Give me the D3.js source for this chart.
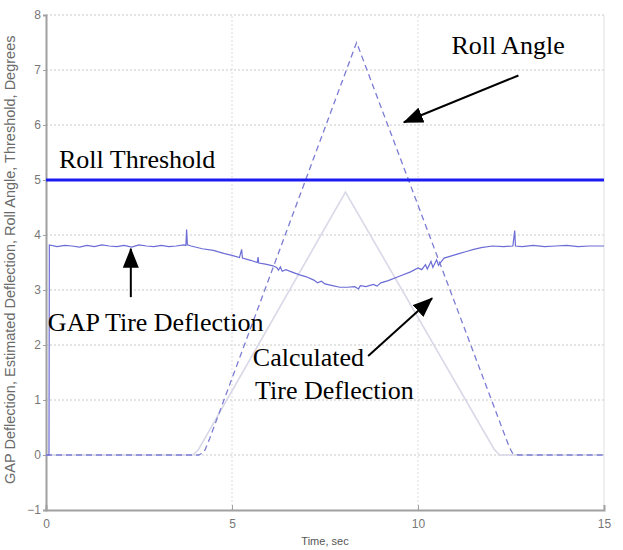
<!DOCTYPE html>
<html>
<head>
<meta charset="utf-8">
<script src="https://cdn.jsdelivr.net/npm/d3@7"></script>
<style>
  body { margin: 0; background: #fff; }
  svg { display: block; }
</style>
</head>
<body>
<svg id="chart"></svg>
<script>
// time (sec) / value (degrees) pairs
const thresholdTime = [0, 15];
const thresholdValue = [5, 5];

const rollTime = [0, 4.1, 4.25, 4.4, 8.35, 12.45, 12.55, 12.7, 15];
const rollValue = [0, 0, 0.05, 0.3, 7.5, 0.15, 0.02, 0, 0];

const calcTime = [0, 3.95, 4.1, 8.05, 12.05, 12.2, 15];
const calcValue = [0, 0, 0.1, 4.78, 0.1, 0, 0];

const gapTime = [
  0, 0.08, 0.09, 0.3, 0.5, 0.7, 0.9, 1.1, 1.3, 1.5, 1.7, 1.9, 2.1, 2.3, 2.5,
  2.7, 2.9, 3.1, 3.3, 3.5, 3.7, 3.76, 3.78, 3.8, 3.9, 4.2, 4.5, 4.8, 5.0,
  5.2, 5.26, 5.28, 5.5, 5.68, 5.7, 5.72, 5.9, 6.1, 6.2, 6.25, 6.3, 6.35,
  6.45, 6.6, 6.8, 7.0, 7.2, 7.3, 7.4, 7.5, 7.7, 7.9, 8.1, 8.3, 8.4, 8.45,
  8.6, 8.8, 8.9, 9.0, 9.2, 9.5, 9.8, 10.0, 10.1, 10.2, 10.25, 10.35, 10.4,
  10.5, 10.55, 10.7, 10.9, 11.1, 11.3, 11.5, 11.7, 12.0, 12.3, 12.55, 12.6,
  12.62, 12.8, 13.1, 13.4, 13.7, 14.0, 14.3, 14.6, 15
];
const gapValue = [
  0, 0, 3.82, 3.79, 3.81, 3.8, 3.78, 3.81, 3.79, 3.82, 3.8, 3.79, 3.81, 3.78,
  3.82, 3.8, 3.79, 3.81, 3.79, 3.8, 3.82, 3.81, 4.1, 3.82, 3.8, 3.75, 3.72,
  3.66, 3.63, 3.59, 3.74, 3.58, 3.54, 3.5, 3.6, 3.49, 3.47, 3.44, 3.41, 3.36,
  3.42, 3.34, 3.37, 3.33, 3.28, 3.24, 3.18, 3.13, 3.16, 3.11, 3.08, 3.05,
  3.05, 3.06, 3.02, 3.08, 3.06, 3.1, 3.07, 3.13, 3.17, 3.25, 3.33, 3.4, 3.37,
  3.46, 3.38, 3.52, 3.41, 3.55, 3.45, 3.58, 3.62, 3.66, 3.7, 3.74, 3.77, 3.8,
  3.79, 3.8, 4.08, 3.8, 3.79, 3.81, 3.79, 3.8, 3.81, 3.79, 3.8, 3.8
];

const xTicks = [0, 5, 10, 15];
const yTicks = [-1, 0, 1, 2, 3, 4, 5, 6, 7, 8];

const width = 623;
const height = 550;

const svg = d3.select("#chart").attr("width", width).attr("height", height);

const x = d3.scaleLinear().domain([0, 15]).range([46, 604]);
const y = d3.scaleLinear().domain([-1, 8]).range([510, 15]);

// grid
svg.append("g")
  .selectAll("line")
  .data(yTicks.slice(1))
  .enter()
  .append("line")
  .attr("x1", x(0)).attr("x2", x(15))
  .attr("y1", (d) => y(d)).attr("y2", (d) => y(d))
  .style("stroke", "#c8c8c8")
  .style("stroke-dasharray", "2,2");

svg.append("g")
  .selectAll("line")
  .data(xTicks.slice(1, 3))
  .enter()
  .append("line")
  .attr("y1", y(-1)).attr("y2", y(8))
  .attr("x1", (d) => x(d)).attr("x2", (d) => x(d))
  .style("stroke", "#dcdcdc")
  .style("stroke-dasharray", "2,2");

// right border
svg.append("line")
  .attr("x1", x(15)).attr("x2", x(15))
  .attr("y1", y(-1)).attr("y2", y(8))
  .style("stroke", "#e0e0e0");

// axes
const xAxis = svg.append("g")
  .attr("transform", `translate(0,${y(-1)})`)
  .call(d3.axisBottom(x).tickValues(xTicks).tickSize(-5).tickPadding(9));
const yAxis = svg.append("g")
  .attr("transform", `translate(${x(0)},0)`)
  .call(d3.axisLeft(y).tickValues(yTicks).tickSize(3).tickPadding(2));

[xAxis, yAxis].forEach((a) => {
  a.select(".domain").style("stroke", "#a0a0a0").style("stroke-width", 2);
  a.selectAll(".tick line").style("stroke", "#a0a0a0");
  a.selectAll("text")
    .style("font-family", "Liberation Sans, Arial, sans-serif")
    .style("font-size", "12px")
    .style("fill", "#777");
});

svg.append("text")
  .attr("x", x(7.5))
  .attr("y", 545)
  .attr("text-anchor", "middle")
  .style("font-family", "Liberation Sans, Arial, sans-serif")
  .style("font-size", "11px")
  .style("fill", "#555")
  .text("Time, sec");

svg.append("text")
  .attr("transform", `translate(15,${y(3.55)}) rotate(-90)`)
  .attr("text-anchor", "middle")
  .style("font-family", "Liberation Sans, Arial, sans-serif")
  .style("font-size", "14.5px")
  .style("fill", "#6a6a6a")
  .text("GAP Deflection, Estimated Deflection, Roll Angle, Threshold, Degrees");

// series
const line = d3.line().x((d) => x(d[0])).y((d) => y(d[1]));
const pairs = (t, v) => t.map((d, i) => [d, v[i]]);

svg.append("path")
  .datum(pairs(calcTime, calcValue))
  .attr("d", line)
  .style("fill", "none")
  .style("stroke", "#d8d8e8")
  .style("stroke-width", 1.6);

svg.append("path")
  .datum(pairs(rollTime, rollValue))
  .attr("d", line)
  .style("fill", "none")
  .style("stroke", "#7c7cd4")
  .style("stroke-width", 1.3)
  .style("stroke-dasharray", "6,4");

svg.append("path")
  .datum(pairs(gapTime, gapValue))
  .attr("d", line)
  .style("fill", "none")
  .style("stroke", "#6c6cd6")
  .style("stroke-width", 1.2);

svg.append("path")
  .datum(pairs(thresholdTime, thresholdValue))
  .attr("d", line)
  .style("fill", "none")
  .style("stroke", "#1c1cf0")
  .style("stroke-width", 3);

// annotations (data coordinates)
const labels = [
  { text: "Roll Angle", t: 10.9, v: 7.3 },
  { text: "Roll Threshold", t: 0.35, v: 5.22 },
  { text: "GAP Tire Deflection", t: 0.05, v: 2.25 },
  { text: "Calculated", t: 5.56, v: 1.62 },
  { text: "Tire Deflection", t: 5.62, v: 1.02 },
];
const arrows = [
  { t1: 12.7, v1: 6.9, t2: 9.62, v2: 6.05 },
  { t1: 2.28, v1: 2.87, t2: 2.28, v2: 3.75 },
  { t1: 8.66, v1: 1.8, t2: 10.38, v2: 2.85 },
];

svg.selectAll(".label")
  .data(labels)
  .enter()
  .append("text")
  .attr("class", "label")
  .attr("x", (d) => x(d.t))
  .attr("y", (d) => y(d.v))
  .style("font-family", "Liberation Serif, Times New Roman, serif")
  .style("font-size", "26px")
  .style("fill", "#000")
  .text((d) => d.text);

svg.append("defs")
  .append("marker")
  .attr("id", "head")
  .attr("viewBox", "0 0 20 16")
  .attr("refX", 19)
  .attr("refY", 8)
  .attr("markerWidth", 20)
  .attr("markerHeight", 16)
  .attr("markerUnits", "userSpaceOnUse")
  .attr("orient", "auto")
  .append("path")
  .attr("d", "M0,0 L20,8 L0,16 Z")
  .style("fill", "#000");

svg.selectAll(".arrow")
  .data(arrows)
  .enter()
  .append("line")
  .attr("class", "arrow")
  .attr("x1", (d) => x(d.t1))
  .attr("y1", (d) => y(d.v1))
  .attr("x2", (d) => x(d.t2))
  .attr("y2", (d) => y(d.v2))
  .style("stroke", "#000")
  .style("stroke-width", 2)
  .attr("marker-end", "url(#head)");
</script>
</body>
</html>
